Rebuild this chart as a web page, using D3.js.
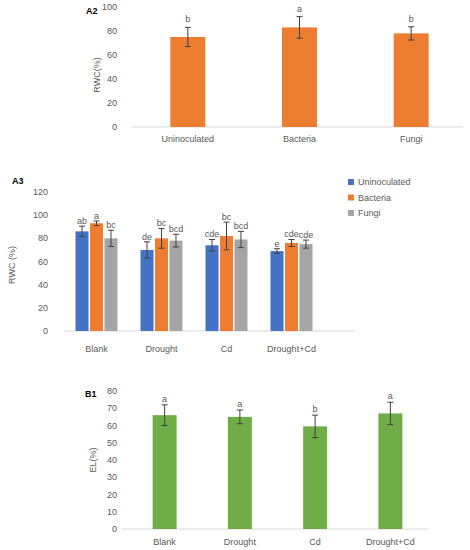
<!DOCTYPE html><html><head><meta charset="utf-8"><script src="https://cdn.jsdelivr.net/npm/d3@7"></script>
<style>body{margin:0;background:#fff}svg{font-family:"Liberation Sans",Arial,sans-serif}</style></head><body>
<svg id="c" width="470" height="550"></svg>
<script>
const a2Cats=["Uninoculated","Bacteria","Fungi"];
const a2Vals=[75,83,78];
const a2Err=[8,9,5.5];
const a2Sig=["b","a","b"];
const a3Groups=["Blank","Drought","Cd","Drought+Cd"];
const a3Series=["Uninoculated","Bacteria","Fungi"];
const a3Vals=[[86,70,74,69],[93,80,82,76],[80,78,79,75]];
const a3Err=[[4.5,7,5,2],[2,8.5,12,3],[7,5.5,7,3.5]];
const a3Sig=[["ab","de","cde","e"],["a","bc","bc","cde"],["bc","bcd","bcd","cde"]];
const b1Cats=["Blank","Drought","Cd","Drought+Cd"];
const b1Vals=[66,65,59.5,67];
const b1Err=[6,4,6.5,6.5];
const b1Sig=["a","a","b","a"];
const colors=["#4472C4","#ED7D31","#A5A5A5"];
const svg=d3.select("#c");
const tc="#595959";
function axisY(g,y,ticks,xr){
  ticks.forEach(t=>g.append("text").attr("x",xr).attr("y",y(t)+3).attr("text-anchor","end").attr("font-size",9).attr("fill",tc).text(t));
}
function err(g,cx,v,e,y,w){
  g.append("line").attr("x1",cx).attr("x2",cx).attr("y1",y(v-e)).attr("y2",y(v+e)).attr("stroke","#404040");
  [v-e,v+e].forEach(k=>g.append("line").attr("x1",cx-w).attr("x2",cx+w).attr("y1",y(k)).attr("y2",y(k)).attr("stroke","#404040"));
}
// A2
{const g=svg.append("g");
const x=d3.scaleBand().domain(a2Cats).range([132,467]).paddingInner(0.9).paddingOuter(0.36);
const x2=d3.scaleBand().domain(a2Cats).range([132,467]);
const y=d3.scaleLinear().domain([0,100]).range([127,7]);
axisY(g,y,d3.range(0,101,20),117);
g.append("line").attr("x1",132).attr("x2",463).attr("y1",y(0)).attr("y2",y(0)).attr("stroke","#d9d9d9");
a2Cats.forEach((c,i)=>{const cx=x2(c)+x2.bandwidth()/2;const w=35;
 g.append("rect").attr("x",cx-w/2).attr("width",w).attr("y",y(a2Vals[i])).attr("height",y(0)-y(a2Vals[i])).attr("fill",colors[1]);
 err(g,cx,a2Vals[i],a2Err[i],y,3);
 g.append("text").attr("x",cx).attr("y",y(a2Vals[i]+a2Err[i])-5).attr("text-anchor","middle").attr("font-size",9).attr("fill",tc).text(a2Sig[i]);
 g.append("text").attr("x",cx).attr("y",142).attr("text-anchor","middle").attr("font-size",9).attr("fill",tc).text(c);});
g.append("text").attr("transform","translate(100,75) rotate(-90)").attr("text-anchor","middle").attr("font-size",9).attr("fill",tc).text("RWC(%)");
g.append("text").attr("x",86).attr("y",14).attr("font-size",9).attr("font-weight","bold").text("A2");}
// A3
{const g=svg.append("g");
const x=d3.scaleBand().domain(a3Groups).range([64,324]);
const xs=d3.scaleBand().domain(a3Series).range([0,42]).paddingInner(0.1);
const y=d3.scaleLinear().domain([0,120]).range([331,192]);
axisY(g,y,d3.range(0,121,20),48);
g.append("line").attr("x1",64).attr("x2",355).attr("y1",y(0)).attr("y2",y(0)).attr("stroke","#d9d9d9");
a3Series.forEach((s,si)=>a3Groups.forEach((gname,gi)=>{
 const bx=x(gname)+x.bandwidth()/2-21+xs(s), w=xs.bandwidth(), cx=bx+w/2, v=a3Vals[si][gi], e=a3Err[si][gi];
 g.append("rect").attr("x",bx).attr("width",w).attr("y",y(v)).attr("height",y(0)-y(v)).attr("fill",colors[si]);
 err(g,cx,v,e,y,3);
 g.append("text").attr("x",cx).attr("y",y(v+e)-2).attr("text-anchor","middle").attr("font-size",9).attr("fill",tc).text(a3Sig[si][gi]);}));
a3Groups.forEach(gname=>g.append("text").attr("x",x(gname)+x.bandwidth()/2).attr("y",352).attr("text-anchor","middle").attr("font-size",9).attr("fill",tc).text(gname));
a3Series.forEach((s,i)=>{g.append("rect").attr("x",348).attr("y",179+i*15.5).attr("width",6).attr("height",6).attr("fill",colors[i]);
 g.append("text").attr("x",358).attr("y",185+i*15.5).attr("font-size",9).attr("fill",tc).text(s);});
g.append("text").attr("transform","translate(15,265) rotate(-90)").attr("text-anchor","middle").attr("font-size",9).attr("fill",tc).text("RWC (%)");
g.append("text").attr("x",12).attr("y",184).attr("font-size",9).attr("font-weight","bold").text("A3");}
// B1
{const g=svg.append("g");
const x=d3.scaleBand().domain(b1Cats).range([127,428]);
const y=d3.scaleLinear().domain([0,80]).range([529,391]);
axisY(g,y,d3.range(0,81,10),117);
g.append("line").attr("x1",122).attr("x2",428).attr("y1",y(0)).attr("y2",y(0)).attr("stroke","#d9d9d9");
b1Cats.forEach((c,i)=>{const cx=x(c)+x.bandwidth()/2, w=24;
 g.append("rect").attr("x",cx-w/2).attr("width",w).attr("y",y(b1Vals[i])).attr("height",y(0)-y(b1Vals[i])).attr("fill","#70AD47");
 err(g,cx,b1Vals[i],b1Err[i],y,3);
 g.append("text").attr("x",cx).attr("y",y(b1Vals[i]+b1Err[i])-3).attr("text-anchor","middle").attr("font-size",9).attr("fill",tc).text(b1Sig[i]);
 g.append("text").attr("x",cx).attr("y",545).attr("text-anchor","middle").attr("font-size",9).attr("fill",tc).text(c);});
g.append("text").attr("transform","translate(96,460) rotate(-90)").attr("text-anchor","middle").attr("font-size",9).attr("fill",tc).text("EL(%)");
g.append("text").attr("x",85).attr("y",397).attr("font-size",9).attr("font-weight","bold").text("B1");}
</script></body></html>
